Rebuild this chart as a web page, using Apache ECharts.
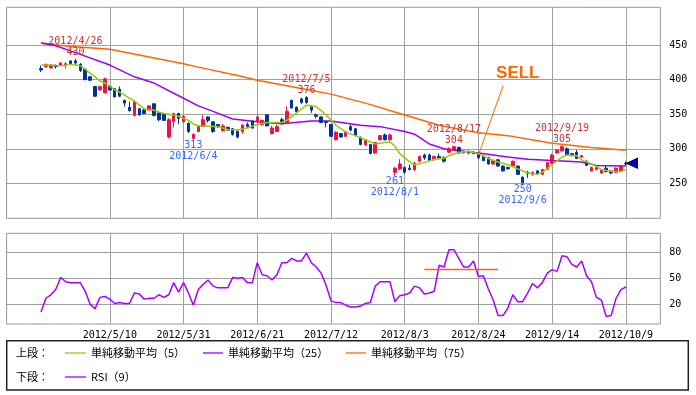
<!DOCTYPE html>
<html><head><meta charset="utf-8">
<script src="https://cdn.jsdelivr.net/npm/echarts@6/dist/echarts.min.js"></script>
<style>html,body{margin:0;padding:0;background:#fff}#c{width:696px;height:395px}</style>
</head><body><div id="c"></div>
<script>
// trading days (2012) shown on the axis
const monthDays = {
  4:[6,9,10,11,12,13,16,17,18,19,20,23,24,25,26,27],
  5:[1,2,7,8,9,10,11,14,15,16,17,18,21,22,23,24,25,28,29,30,31],
  6:[1,4,5,6,7,8,11,12,13,14,15,18,19,20,21,22,25,26,27,28,29],
  7:[2,3,4,5,6,9,10,11,12,13,17,18,19,20,23,24,25,26,27,30,31],
  8:[1,2,3,6,7,8,9,10,13,14,15,16,17,20,21,22,23,24,27,28,29,30,31],
  9:[3,4,5,6,7,10,11,12,13,14,18,19,20,21,24,25,26,27,28],
  10:[1,2,3,4,5,9,10,11,12,15,16,17,18]
};
const categories = [];
for (const m of [4,5,6,7,8,9,10]) for (const d of monthDays[m]) categories.push('2012/' + m + '/' + d);
const firstDate = '2012/4/17';
const xLabelDates = ['2012/5/10','2012/5/31','2012/6/21','2012/7/12','2012/8/3','2012/8/24','2012/9/14','2012/10/9'];
const upperTicks = [250,300,350,400,450];
const rsiTicks = [20,50,80];

const opens = [416,419,417,420,421,421,427,427,422,415, 404,390,385,381,390,387,386,370,360,348,
  358,356,356,365,352,351,317,339,351,339, 337,315,325,332,346,339,335,326,331,329,
  325,325,335,340,340,335,349,322,325,342, 337,370,360,372,374,361,349,346,339,335,
  313,322,318,332,329,316,306,306,294,313, 320,313,266,271,273,272,270,282,291,291,
  284,289,287,295,298,302,294,296,295,292, 289,287,278,284,275,273,275,275,259,266,
  263,268,263,270,279,294,297,300,293,295, 288,282,268,270,265,272,268,266,268,279];
const closes = [414,422,421,419,424,423,423,424,413,400, 399,376,390,401,385,375,376,366,355,368,
  349,351,362,348,342,341,342,351,344,347, 325,321,333,342,341,325,332,333,327,321,
  317,334,332,330,346,341,333,330,332,337, 354,359,354,367,367,356,347,338,338,318,
  324,317,325,327,319,306,313,293,309,319, 313,320,272,278,266,270,279,289,287,283,
  289,287,282,300,303,294,296,294,293,287, 283,278,283,275,268,271,282,263,251,264,
  266,264,270,280,291,298,303,291,290,286, 290,276,273,275,269,267,265,272,275,278];
const lows = [411,417,416,416,420,416,422,421,411,399, 398,375,384,380,384,374,375,361,354,347,
  348,350,355,347,340,340,315,331,336,338, 323,313,324,332,338,323,330,325,326,319,
  315,322,330,329,337,333,333,321,324,335, 336,358,353,365,365,352,344,337,331,317,
  312,316,317,325,318,305,304,292,292,312, 312,312,261,269,264,269,268,281,284,282,
  283,285,280,294,297,293,293,292,292,285, 282,277,277,274,267,270,274,262,250,258,
  261,263,262,269,278,293,296,290,289,285, 287,275,267,269,264,266,263,265,267,276];
const highs = [420,423,422,422,425,425,428,430,424,416, 405,391,391,403,392,388,390,371,368,370,
  359,358,363,366,354,352,344,352,352,348, 338,322,334,349,347,339,336,336,332,330,
  327,336,338,341,349,342,350,333,335,345, 361,371,361,374,376,363,351,347,340,336,
  325,323,326,335,330,318,314,307,310,320, 322,322,274,285,274,277,281,290,293,293,
  290,293,289,302,304,303,297,298,296,294, 291,288,284,285,276,274,283,276,260,268,
  267,269,271,281,293,299,305,302,294,298, 291,283,274,276,270,275,269,273,276,282];

// moving averages read at sample days: [day offset from firstDate, value]
const ma5 = [[0,421],[2,421],[4,420],[6,422],[8,420],[9,415],[10,409],[11,404],[12,398],[13,395],[14,390],[15,385],[16,382],[17,378],[18,373],[19,369],[20,363],[21,358],[22,356],[23,356],[24,353],[25,351],[26,350],[27,349],[28,347],[29,344],[30,341],[31,336],[32,333],[34,333],[36,332],[38,328],[40,327],[42,330],[44,335],[46,338],[49,338],[50,341],[52,352],[54,363],[56,361],[58,349],[60,334],[62,324],[64,319],[66,313],[68,307],[70,309],[71,310],[72,304],[73,293],[75,281],[76,277],[78,280],[80,285],[82,286],[83,290],[85,295],[87,296],[89,293],[91,286],[93,281],[95,277],[97,271],[99,265],[101,263],[102,266],[104,277],[106,288],[107,291],[109,290],[110,284],[112,278],[114,270],[116,267],[118,267],[119,270]];
const ma25 = [[0,453],[3,449],[7,439],[14,421],[19,404],[23,395],[29,373],[32,362],[35,354],[39,343],[44,339],[49,336],[55,340],[59,340],[65,334],[69,332],[74,325],[76,321],[79,307],[82,300],[85,297],[89,294],[95,288],[99,285],[104,283],[110,281],[113,276],[119,275]];
const ma75 = [[0,453],[6,448],[12,445],[14,444],[21,434],[29,423],[32,418],[40,406],[44,399],[53,387],[59,379],[66,366],[73,351],[81,334],[89,323],[95,319],[104,308],[112,302],[119,298]];

const rsi9 = [11,27,31,37,51,46,45,45,45,35, 20,15,28,29,26,21,22,21,21,33,
  32,26,27,27,31,28,31,45,34,45, 33,19,37,43,48,41,39,39,39,51,
  50,51,45,45,68,54,53,48,54,68, 68,73,70,70,79,68,63,56,42,24,
  22,22,19,17,17,18,21,22,41,46, 46,46,23,30,31,33,41,39,32,33,
  35,65,63,83,83,73,63,63,70,52, 53,38,25,7,7,16,31,23,23,33,
  44,39,45,56,60,58,76,75,66,63, 70,53,46,28,25,6,7,27,37,40];

const highNotes = [['2012/4/26',430],['2012/7/5',376],['2012/8/17',304],['2012/9/19',305]];
const lowNotes = [['2012/6/4',313],['2012/8/1',261],['2012/9/6',250]];
const sellLine = [['2012/8/31',391],['2012/8/24',291]];
const sellText = ['2012/9/5',409];
const lastMark = ['2012/10/9',279];
const rsiLine = [['2012/8/9',60.4],['2012/8/30',60.4]];

const i0 = categories.indexOf(firstDate);
const cat = d => categories[i0 + d];
const candleData = opens.map((o,i) => [cat(i), o, closes[i], lows[i], highs[i]]);
const toPts = arr => arr.map(p => [cat(p[0]), p[1]]);
const labelSet = new Set(xLabelDates);
const showIdx = (i) => labelSet.has(categories[i]);

const MONO = 'DejaVu Sans Mono';
const JP = 'Noto Sans CJK JP';
const GRID = '#a0a0a0';
const C5 = '#99cc00', C25 = '#9900ff', C75 = '#ff6600', CRSI = '#aa00ff';

const noteLabel = (pos, color) => ({show:true, position:pos, distance:0, color:color, fontFamily:MONO, fontSize:10, lineHeight:11});
const markData = [];
highNotes.forEach(n => markData.push({coord:n, symbol:'circle', symbolSize:1, itemStyle:{color:'rgba(0,0,0,0)'},
  label:Object.assign(noteLabel('top','#cc3333'), {formatter: n[0] + '\n' + n[1]})}));
lowNotes.forEach(n => markData.push({coord:n, symbol:'circle', symbolSize:1, itemStyle:{color:'rgba(0,0,0,0)'},
  label:Object.assign(noteLabel('bottom','#3366ff'), {formatter: n[1] + '\n' + n[0]})}));
markData.push({coord:sellText, symbol:'circle', symbolSize:1, itemStyle:{color:'rgba(0,0,0,0)'},
  label:{show:true, position:'inside', formatter:'SELL', color:'#ff6600', fontFamily:'Liberation Sans', fontWeight:'bold', fontSize:17}});
markData.push({coord:lastMark, symbol:'path://M0,5L10,0L10,10Z', symbolSize:[11,10], symbolOffset:[6,0],
  itemStyle:{color:'#0000dd', borderColor:'#000', borderWidth:1}, label:{show:false}});

const xBase = (gi) => ({
  type:'category', gridIndex:gi, data:categories, boundaryGap:false,
  axisLine:{show:false}, axisTick:{show:false},
  axisLabel:{show: gi===1, interval:(i)=>showIdx(i), color:'#000', fontFamily:MONO, fontSize:10, margin:6},
  splitLine:{show:true, interval:(i)=>showIdx(i), lineStyle:{color:GRID, width:1}}
});
const yBase = (gi, mn, mx, ticks) => ({
  type:'value', gridIndex:gi, position:'right', min:mn, max:mx,
  axisLine:{show:false},
  axisTick:{show:false, customValues:ticks},
  axisLabel:{customValues:ticks, color:'#000', fontFamily:MONO, fontSize:10, margin:9, align:'left'},
  splitLine:{show:true, lineStyle:{color:GRID, width:1}}
});

const chart = echarts.init(document.getElementById('c'), null, {renderer:'canvas'});
chart.setOption({
  animation:false,
  backgroundColor:'#fff',
  grid:[
    {left:6.6, top:7.3, width:653.7, height:211, show:true, borderColor:'#999', borderWidth:1, backgroundColor:'#fff', outerBoundsMode:'none'},
    {left:6.6, top:233.3, width:653.7, height:90.7, show:true, borderColor:'#999', borderWidth:1, backgroundColor:'#fff', outerBoundsMode:'none'}
  ],
  xAxis:[xBase(0), xBase(1)],
  yAxis:[yBase(0,199.5,504.5,upperTicks), yBase(1,-2.7,101.9,rsiTicks)],
  series:[
    {type:'line', xAxisIndex:0, yAxisIndex:0, data:toPts(ma75), showSymbol:false, symbol:'none', lineStyle:{color:C75, width:1.5}, z:2},
    {type:'line', xAxisIndex:0, yAxisIndex:0, data:toPts(ma25), showSymbol:false, symbol:'none', lineStyle:{color:C25, width:1.5}, z:2},
    {type:'candlestick', xAxisIndex:0, yAxisIndex:0, data:candleData, encode:{x:0, y:[1,2,3,4]}, barWidth:3,
      itemStyle:{color:'#ee1144', color0:'#003399', borderColor:'#ee1144', borderColor0:'#003399', borderWidth:1},
      z:3,
      markPoint:{data:markData, silent:true},
      markLine:{silent:true, symbol:['none','none'], label:{show:false}, lineStyle:{color:'#ff6600', width:1, type:'solid'},
        data:[[{coord:sellLine[0]},{coord:sellLine[1]}]]}
    },
    {type:'line', xAxisIndex:0, yAxisIndex:0, data:toPts(ma5), showSymbol:false, symbol:'none', lineStyle:{color:C5, width:1.5}, z:4},
    {type:'line', xAxisIndex:1, yAxisIndex:1, data:rsi9.map((v,i)=>[cat(i), v]), showSymbol:false, symbol:'none', lineStyle:{color:CRSI, width:1.5},
      markLine:{silent:true, symbol:['none','none'], label:{show:false}, lineStyle:{color:'#ff6600', width:1.3, type:'solid'},
        data:[[{coord:rsiLine[0]},{coord:rsiLine[1]}]]}}
  ],
  graphic:[
    {type:'rect', shape:{x:6.7, y:340.7, width:681.6, height:49.3}, style:{fill:'#fff', stroke:'#222', lineWidth:1.5}},
    {type:'text', x:16, y:353, style:{text:'上段：', fill:'#000', font:'11px "'+JP+'"', verticalAlign:'middle'}},
    {type:'line', shape:{x1:65, y1:353, x2:86, y2:353}, style:{stroke:C5, lineWidth:1.3}},
    {type:'text', x:91, y:353, style:{text:'単純移動平均（5）', fill:'#000', font:'11px "'+JP+'"', verticalAlign:'middle'}},
    {type:'line', shape:{x1:203, y1:353, x2:223, y2:353}, style:{stroke:C25, lineWidth:1.3}},
    {type:'text', x:228, y:353, style:{text:'単純移動平均（25）', fill:'#000', font:'11px "'+JP+'"', verticalAlign:'middle'}},
    {type:'line', shape:{x1:346, y1:353, x2:366, y2:353}, style:{stroke:C75, lineWidth:1.3}},
    {type:'text', x:371, y:353, style:{text:'単純移動平均（75）', fill:'#000', font:'11px "'+JP+'"', verticalAlign:'middle'}},
    {type:'text', x:16, y:377, style:{text:'下段：', fill:'#000', font:'11px "'+JP+'"', verticalAlign:'middle'}},
    {type:'line', shape:{x1:65, y1:377, x2:86, y2:377}, style:{stroke:CRSI, lineWidth:1.3}},
    {type:'text', x:91, y:377, style:{text:'RSI（9）', fill:'#000', font:'11px "'+JP+'"', verticalAlign:'middle'}}
  ]
});
</script></body></html>
